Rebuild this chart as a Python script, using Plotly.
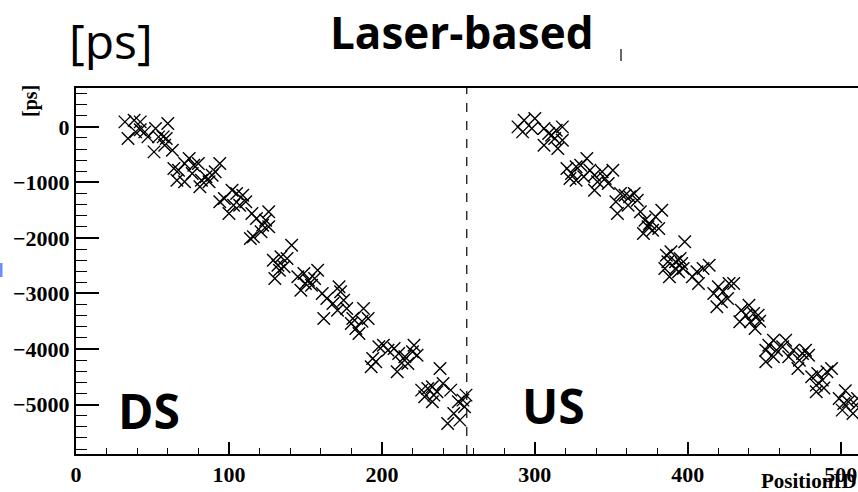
import plotly.graph_objects as go

# ---- data (PositionID, time offset [ps]) ----
ds_x = [32, 38, 42, 34, 39, 45, 47, 52, 54, 57, 60, 58, 51, 63, 59, 42,
        64, 67, 71, 74, 77, 66, 71, 76, 80, 82, 85, 89, 91, 94, 81, 87,
        97, 102, 105, 109, 100, 103, 107, 111, 115, 118, 122, 126, 124, 121, 114, 94, 126, 116,
        129, 134, 138, 141, 130, 133, 136, 132,
        145, 147, 149, 152, 156, 158, 154, 150,
        161, 164, 162, 168, 172, 173, 171, 175, 177, 181, 183, 185, 188, 191, 187, 180,
        194, 193, 198, 201, 204, 196, 208, 211, 210, 215, 217, 221, 223, 220, 213,
        226, 228, 230, 233, 234, 238, 240, 236, 245, 243, 247, 251, 253, 255, 254, 250, 233]
ds_y = [90, 120, 90, -210, -90, -90, -180, -30, -180, -180, 60, -330, -450, -420, -210, -50,
        -750, -780, -660, -570, -690, -960, -990, -840, -660, -960, -900, -870, -810, -660, -1080, -990,
        -1290, -1140, -1200, -1230, -1560, -1410, -1410, -1350, -1560, -1650, -1770, -1530, -1680, -1890, -2010, -1350, -1800, -1980,
        -2400, -2340, -2370, -2130, -2730, -2580, -2520, -2490,
        -2700, -2940, -2640, -2760, -2730, -2580, -2850, -2820,
        -3000, -3090, -3450, -3180, -2880, -2970, -3300, -3120, -3270, -3450, -3630, -3720, -3270, -3450, -3500, -3540,
        -4170, -4320, -3960, -3930, -4020, -4230, -3990, -4080, -4410, -4140, -4260, -3930, -4110, -4050, -4250,
        -4740, -4860, -4710, -4680, -4830, -4350, -4620, -4770, -4740, -5340, -5160, -5280, -4920, -4830, -5040, -4950, -4950]

us_x = [289, 293, 300, 298, 292, 306, 309, 306, 311, 314, 318, 315, 318, 313,
        321, 324, 323, 327, 330, 334, 332, 336, 339, 344, 341, 339, 346, 348, 351, 327,
        353, 356, 359, 362, 365, 367, 354, 361,
        369, 372, 371, 375, 379, 383, 381, 377, 374,
        398, 386, 389, 385, 392, 388, 395, 397, 394, 387, 392, 396,
        403, 406, 410, 414, 407,
        417, 420, 423, 419, 427, 430, 426, 422,
        435, 438, 440, 434, 443, 446, 444, 441, 447,
        451, 453, 451, 456, 458, 462, 464, 466, 469, 473, 475, 477, 479, 472, 456,
        481, 485, 488, 484, 491, 494, 484, 489,
        499, 502, 505, 501, 508, 510, 511, 503]
us_y = [0, 120, 150, -30, -90, -30, -120, -330, -150, -60, 0, -390, -240, -210,
        -750, -840, -930, -720, -690, -570, -900, -780, -870, -810, -990, -1140, -930, -1020, -780, -960,
        -1350, -1200, -1230, -1260, -1200, -1320, -1560, -1410,
        -1530, -1680, -1920, -1740, -1620, -1500, -1830, -1860, -1800,
        -2070, -2310, -2250, -2550, -2430, -2700, -2370, -2550, -2610, -2430, -2550, -2460,
        -2700, -2610, -2550, -2490, -2820,
        -3000, -2880, -2970, -3240, -2820, -2820, -3090, -3150,
        -3300, -3390, -3210, -3510, -3360, -3390, -3630, -3510, -3500,
        -4020, -3930, -4230, -3840, -4020, -3960, -3840, -4140, -4020, -4200, -4080, -4020, -4110, -4350, -4140,
        -4500, -4440, -4560, -4650, -4410, -4350, -4770, -4700,
        -4890, -4980, -4950, -5100, -5160, -5010, -4890, -4750]

x_ticks = [0, 100, 200, 300, 400, 500]
y_ticks = [0, -1000, -2000, -3000, -4000, -5000]
y_tick_text = ["<b>0</b>", "<b>\u22121000</b>", "<b>\u22122000</b>", "<b>\u22123000</b>",
               "<b>\u22124000</b>", "<b>\u22125000</b>"]
boundary = 255.5

W, H = 858, 492
L, R, T, B = 76, 0, 88, 38

serif = "Liberation Serif"
sans = "Open Sans"

fig = go.Figure()
marker = dict(symbol="x-thin", size=12.5, color="black", line=dict(color="black", width=1.4))
fig.add_trace(go.Scatter(x=ds_x, y=ds_y, mode="markers", marker=marker, showlegend=False))
fig.add_trace(go.Scatter(x=us_x, y=us_y, mode="markers", marker=marker, showlegend=False))

fig.add_shape(type="line", xref="x", yref="paper", x0=boundary, x1=boundary, y0=0, y1=1,
              line=dict(color="black", width=1.2, dash="dash"))


def px_x(p):
    return (p - L) / (W - L - R)


def px_y(p):
    return (H - B - p) / (H - T - B)


# small artifacts
fig.add_shape(type="rect", xref="paper", yref="paper", x0=px_x(0), x1=px_x(2.5), y0=px_y(277), y1=px_y(263),
              line=dict(width=0), fillcolor="#6f8cff")
fig.add_shape(type="line", xref="paper", yref="paper", x0=px_x(621), x1=px_x(621), y0=px_y(49), y1=px_y(61),
              line=dict(color="black", width=1.2))

annots = [
    dict(text="[ps]", x=px_x(67), y=px_y(6), xanchor="left", yanchor="top",
         font=dict(family=sans, size=48, color="black")),
    dict(text="<b>Laser-based</b>", x=px_x(462), y=px_y(0), xanchor="center", yanchor="top",
         font=dict(family=sans, size=44, color="black")),
    dict(text="<b>DS</b>", x=px_x(116), y=px_y(376), xanchor="left", yanchor="top",
         font=dict(family=sans, size=48, color="black")),
    dict(text="<b>US</b>", x=px_x(520), y=px_y(371), xanchor="left", yanchor="top",
         font=dict(family=sans, size=48, color="black")),
    dict(text="<b>PositionID</b>", x=px_x(859), y=px_y(495), xanchor="right", yanchor="bottom",
         font=dict(family=serif, size=21, color="black")),
    dict(text="<b>[ps]</b>", x=px_x(30), y=px_y(83), xanchor="center", yanchor="top", textangle=-90,
         font=dict(family=serif, size=20, color="black")),
]
for a in annots:
    a.update(xref="paper", yref="paper", showarrow=False)
    fig.add_annotation(**a)

fig.update_layout(
    width=W, height=H,
    margin=dict(l=L, r=R, t=T, b=B, pad=0, autoexpand=False),
    paper_bgcolor="white", plot_bgcolor="white",
    xaxis=dict(range=[0, 511.3], tickvals=x_ticks, ticktext=["<b>%d</b>" % v for v in x_ticks],
               automargin=False,
               ticks="inside", ticklen=12, tickwidth=1.5, tickcolor="black",
               minor=dict(dtick=20, ticks="inside", ticklen=6, tickwidth=1.2, tickcolor="black", showgrid=False),
               showline=True, linecolor="black", linewidth=2, mirror=True,
               showgrid=False, zeroline=False,
               tickfont=dict(family=serif, size=22, color="black")),
    yaxis=dict(range=[-5890, 700], tickvals=y_ticks, ticktext=y_tick_text,
               automargin=False,
               ticks="inside", ticklen=23, tickwidth=1.5, tickcolor="black",
               minor=dict(dtick=200, ticks="inside", ticklen=11, tickwidth=1.2, tickcolor="black", showgrid=False),
               showline=True, linecolor="black", linewidth=2,
               showgrid=False, zeroline=False,
               tickfont=dict(family=serif, size=22, color="black")),
)

fig.write_html("out.html", config={"displayModeBar": False},
               post_script="document.body.style.margin='0';document.body.style.overflow='hidden';")
